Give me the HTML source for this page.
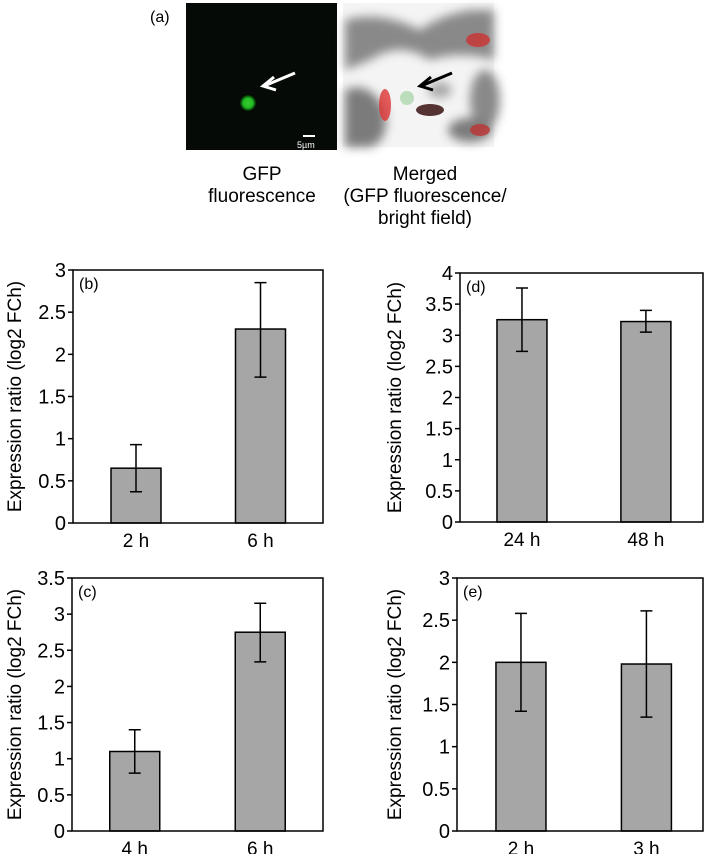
<!DOCTYPE html>
<html><head><meta charset="utf-8"><style>
body{margin:0;background:#fff;font-family:"Liberation Sans",sans-serif}
svg text{font-family:"Liberation Sans",sans-serif}
</style></head><body>
<svg id="fig" width="709" height="854" viewBox="0 0 709 854" xmlns="http://www.w3.org/2000/svg">
<defs>
<radialGradient id="gdot"><stop offset="0" stop-color="#3c3"/><stop offset="0.6" stop-color="#2b2"/><stop offset="1" stop-color="#020"/></radialGradient>
<filter id="blur"><feGaussianBlur stdDeviation="5"/></filter>
</defs>
<text x="150" y="22" font-size="16">(a)</text>
<g>
<rect x="186" y="3" width="151" height="147" fill="#050a06"/>
<circle cx="248" cy="103" r="8" fill="url(#gdot)"/>
<line x1="295" y1="73" x2="264" y2="86" stroke="#fff" stroke-width="3"/>
<polyline points="274,77 263,86 276,90" fill="none" stroke="#fff" stroke-width="3"/>
<line x1="303" y1="136" x2="315" y2="136" stroke="#fff" stroke-width="2"/>
<text x="297" y="148" font-size="9" fill="#fff">5µm</text>
</g>
<g>
<rect x="343" y="3" width="151" height="144" fill="#f4f4f4"/>
<g filter="url(#blur)" opacity="0.85">
<path d="M345 20 Q380 10 420 30 Q440 15 470 10 L494 10 L494 60 Q460 50 430 60 Q400 40 370 60 L345 70Z" fill="#777"/>
<path d="M345 90 Q370 80 385 110 Q390 140 370 147 L345 147Z" fill="#666"/>
<ellipse cx="485" cy="100" rx="15" ry="30" fill="#777"/>
<ellipse cx="470" cy="130" rx="22" ry="12" fill="#666"/>
<ellipse cx="440" cy="90" rx="12" ry="8" fill="#999"/>
</g>
<ellipse cx="478" cy="40" rx="12" ry="7" fill="#c33" opacity="0.8"/>
<ellipse cx="385" cy="105" rx="6" ry="16" fill="#d33" opacity="0.8"/>
<ellipse cx="480" cy="130" rx="10" ry="6" fill="#b33" opacity="0.8"/>
<ellipse cx="430" cy="110" rx="14" ry="6" fill="#533"/>
<circle cx="407" cy="98" r="7" fill="#bdb"/>
<line x1="452" y1="73" x2="421" y2="86" stroke="#000" stroke-width="3"/>
<polyline points="431,77 420,86 433,90" fill="none" stroke="#000" stroke-width="3"/>
</g>
<g font-size="19" text-anchor="middle">
<text x="262" y="180">GFP</text><text x="262" y="202">fluorescence</text>
<text x="425" y="180">Merged</text><text x="425" y="202">(GFP fluorescence/</text><text x="425" y="224">bright field)</text>
</g>
<g id="charts"></g>
</svg>
<script>
const catsB=["2 h","6 h"], valsB=[0.65,2.3], lowB=[0.37,1.73], highB=[0.93,2.85], ticksB=["0","0.5","1","1.5","2","2.5","3"];
const catsD=["24 h","48 h"], valsD=[3.25,3.22], lowD=[2.74,3.05], highD=[3.76,3.40], ticksD=["0","0.5","1","1.5","2","2.5","3","3.5","4"];
const catsC=["4 h","6 h"], valsC=[1.1,2.75], lowC=[0.8,2.34], highC=[1.4,3.15], ticksC=["0","0.5","1","1.5","2","2.5","3","3.5"];
const catsE=["2 h","3 h"], valsE=[2.0,1.98], lowE=[1.42,1.35], highE=[2.58,2.61], ticksE=["0","0.5","1","1.5","2","2.5","3"];
const NS="http://www.w3.org/2000/svg";
const root=document.getElementById('charts');
function mk(tag,attrs,parent){const e=document.createElementNS(NS,tag);for(const k in attrs)e.setAttribute(k,attrs[k]);parent.appendChild(e);return e;}
function chart(id,L,R,T,B,cats,vals,low,high,ticks,centers,label,titleX){
  const g=mk('g',{},root);
  
  
  const ymax=parseFloat(ticks[ticks.length-1]);
  const y=v=>B-(v/ymax)*(B-T);
  const x=i=>L+centers[i]*(R-L);
  const bw=50;
  cats.forEach((c,i)=>{
    const r=mk('rect',{x:x(i)-bw/2,y:y(vals[i]),width:bw,height:B-y(vals[i]),fill:'#a6a6a6',stroke:'#000','stroke-width':1.5},g);
    
    
    const eb=mk('path',{d:`M${x(i)} ${y(low[i])}V${y(high[i])}M${x(i)-6} ${y(low[i])}H${x(i)+6}M${x(i)-6} ${y(high[i])}H${x(i)+6}`,stroke:'#000','stroke-width':1.5,fill:'none'},g);
    
    
    const t=mk('text',{x:x(i),y:B+24,'font-size':19,'text-anchor':'middle'},g);
    t.textContent=c;
    
    
  });
  const fr=mk('rect',{x:L,y:T,width:R-L,height:B-T,fill:'none',stroke:'#000','stroke-width':1.5},g);
  
  
  ticks.forEach((tk,i)=>{
    const v=parseFloat(tk);
    mk('line',{x1:L-5,x2:L,y1:y(v),y2:y(v),stroke:'#000','stroke-width':1.5},g);
    const t=mk('text',{x:L-7,y:y(v)+7,'font-size':20,'text-anchor':'end'},g);
    t.textContent=tk;
    
    
  });
  const pl=mk('text',{x:L+6,y:T+19,'font-size':16},g);
  pl.textContent=label;
  
  
  const yt=mk('text',{x:0,y:0,'font-size':19,'text-anchor':'middle',transform:`translate(${titleX},${(T+B)/2}) rotate(-90)`},g);
  yt.textContent='Expression ratio (log2 FCh)';
  
  
}
chart('b',73,323,270,523,catsB,valsB,lowB,highB,ticksB,[0.252,0.75],'(b)',21);
chart('d',460,703,273,522,catsD,valsD,lowD,highD,ticksD,[0.255,0.765],'(d)',401);
chart('c',72,323,578,831,catsC,valsC,lowC,highC,ticksC,[0.25,0.75],'(c)',21);
chart('e',457,703,578,831,catsE,valsE,lowE,highE,ticksE,[0.26,0.77],'(e)',401);
</script>
</body></html>
